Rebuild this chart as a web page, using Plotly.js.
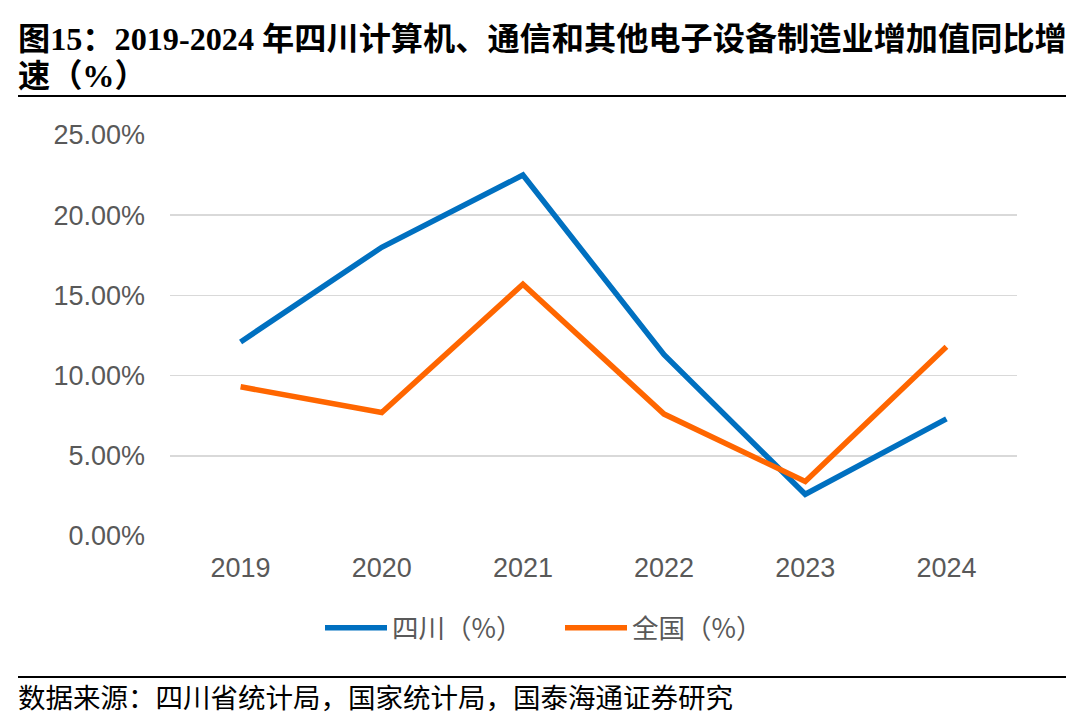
<!DOCTYPE html>
<html><head><meta charset="utf-8">
<script src="https://cdn.plot.ly/plotly-3.0.1.min.js"></script>
<style>html,body{margin:0;padding:0;background:#fff;}#chart{width:1080px;height:722px;}</style>
</head><body><div id="chart"></div>
<script>
const years = ['2019','2020','2021','2022','2023','2024'];
const sichuan = [12.1, 18.0, 22.5, 11.3, 2.6, 7.3];
const national = [9.3, 7.7, 15.7, 7.6, 3.4, 11.8];
const seriesNames = ['四川（%）', '全国（%）'];
const yTicks = [0, 5, 10, 15, 20, 25];
const yTickText = ['0.00%', '5.00%', '10.00%', '15.00%', '20.00%', '25.00%'];

const W = 1080, H = 722;
const m = {l: 170, r: 63, t: 135, b: 186};
const pw = W - m.l - m.r, ph = H - m.t - m.b;
const px = x => (x - m.l) / pw;
const py = y => (H - m.b - y) / ph;

const cjk = '"Noto Sans CJK SC", "Liberation Serif", serif';
const tickFont = {family: 'Liberation Sans, Arial, sans-serif', size: 27, color: '#595959'};
const traces = [
  {x: years, y: sichuan, name: seriesNames[0], type: 'scatter', mode: 'lines',
   line: {color: '#0070C0', width: 5.5}},
  {x: years, y: national, name: seriesNames[1], type: 'scatter', mode: 'lines',
   line: {color: '#FF6600', width: 5.5}}
];
const layout = {
  width: W, height: H, margin: m,
  paper_bgcolor: '#fff', plot_bgcolor: '#fff',
  showlegend: true,
  legend: {orientation: 'h', x: px(320), xanchor: 'left', y: py(628), yanchor: 'middle',
    font: {family: cjk, size: 26.5, color: '#595959'}, itemwidth: 62, entrywidth: 163, tracegroupgap: 0},
  xaxis: {type: 'category', range: [-0.5, 5.5], showgrid: false, zeroline: false,
    showline: false, ticks: '', ticklabelstandoff: 13, tickfont: tickFont},
  yaxis: {range: [0, 25], tickvals: yTicks, ticktext: yTickText, showgrid: true,
    gridcolor: '#d9d9d9', gridwidth: 1.5, zeroline: false, showline: false, ticks: '',
    ticklabelstandoff: 24, tickfont: tickFont},
  annotations: [
    {xref: 'paper', yref: 'paper', x: px(16), y: py(39), xanchor: 'left', yanchor: 'middle',
     showarrow: false, align: 'left',
     text: '<b>图15：2019-2024 年四川计算机、通信和其他电子设备制造业增加值同比增</b>',
     font: {family: '"Liberation Serif", "Noto Sans CJK SC", serif', size: 32.2, color: '#000'}},
    {xref: 'paper', yref: 'paper', x: px(16), y: py(76), xanchor: 'left', yanchor: 'middle',
     showarrow: false, align: 'left',
     text: '<b>速（%）</b>',
     font: {family: '"Liberation Serif", "Noto Sans CJK SC", serif', size: 32.2, color: '#000'}},
    {xref: 'paper', yref: 'paper', x: px(16), y: py(696), xanchor: 'left', yanchor: 'middle',
     showarrow: false, align: 'left',
     text: '数据来源：四川省统计局，国家统计局，国泰海通证券研究',
     font: {family: cjk, size: 27.5, color: '#000'}}
  ],
  shapes: [
    {type: 'line', xref: 'paper', yref: 'paper', x0: px(18), x1: px(1066), y0: py(96), y1: py(96),
     line: {color: '#000', width: 2}},
    {type: 'line', xref: 'paper', yref: 'paper', x0: px(18), x1: px(1066), y0: py(677), y1: py(677),
     line: {color: '#000', width: 2}}
  ]
};
Plotly.newPlot('chart', traces, layout, {displayModeBar: false, staticPlot: true});
</script></body></html>
